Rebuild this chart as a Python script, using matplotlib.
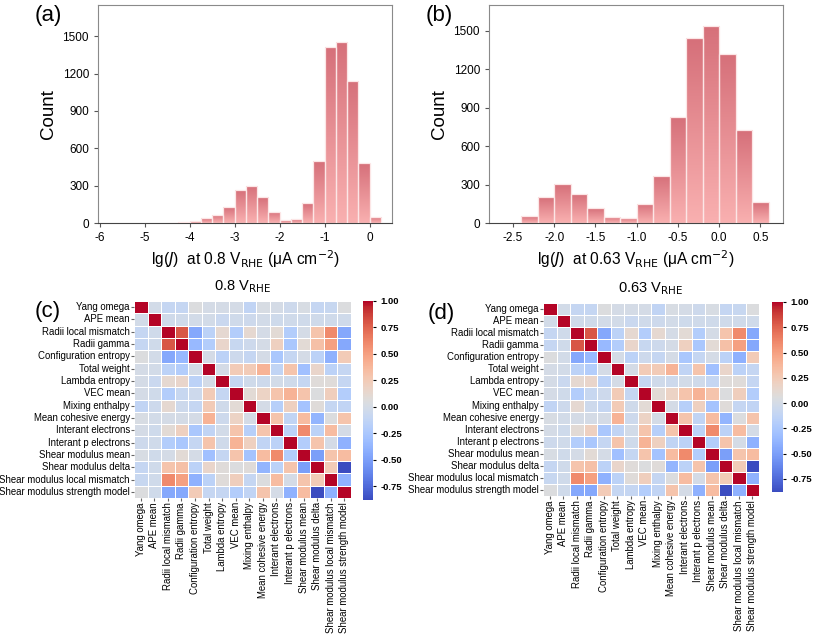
import numpy as np
import matplotlib
matplotlib.use("Agg")
import matplotlib.pyplot as plt
import seaborn as sns
from matplotlib.colors import LinearSegmentedColormap

plt.rcParams['font.family'] = ['Liberation Sans', 'DejaVu Sans']
plt.rcParams['axes.unicode_minus'] = False

# %% data
# (a) histogram, lg(J) at 0.8 V_RHE, bin width 0.25
bins_a = [-4.5, -4.25, -4.0, -3.75, -3.5, -3.25, -3.0, -2.75, -2.5, -2.25, -2.0,
          -1.75, -1.5, -1.25, -1.0, -0.75, -0.5, -0.25, 0.0]
counts_a = [2, 5, 16, 37, 67, 128, 261, 301, 208, 91, 21,
            32, 160, 496, 1414, 1455, 1140, 480, 51]

# (b) histogram, lg(J) at 0.63 V_RHE, bin width 0.2
bins_b = [-2.6, -2.4, -2.2, -2.0, -1.8, -1.6, -1.4, -1.2, -1.0, -0.8,
          -0.6, -0.4, -0.2, 0.0, 0.2, 0.4]
counts_b = [3, 52, 199, 303, 225, 116, 47, 39, 150, 367,
            827, 1440, 1539, 1319, 724, 160]

features = ["Yang omega", "APE mean", "Radii local mismatch", "Radii gamma",
            "Configuration entropy", "Total weight", "Lambda entropy", "VEC mean",
            "Mixing enthalpy", "Mean cohesive energy", "Interant electrons",
            "Interant p electrons", "Shear modulus mean", "Shear modulus delta",
            "Shear modulus local mismatch", "Shear modulus strength model"]

corr_08 = np.array([
    [1.00, -0.02, -0.10, -0.10, 0.05, 0.00, 0.00, 0.00, -0.12, 0.02, 0.00, -0.05, 0.02, -0.10, -0.08, 0.05],
    [-0.02, 1.00, -0.03, -0.03, -0.02, -0.02, -0.07, -0.03, -0.05, -0.02, -0.04, -0.03, -0.03, -0.03, -0.03, -0.03],
    [-0.10, -0.03, 1.00, 0.80, -0.45, -0.15, 0.12, -0.20, 0.12, 0.00, 0.10, -0.20, 0.00, 0.30, 0.60, -0.45],
    [-0.10, -0.03, 0.80, 1.00, -0.35, -0.20, 0.15, -0.08, -0.05, 0.00, 0.20, -0.25, 0.10, 0.32, 0.50, -0.45],
    [0.05, -0.02, -0.45, -0.35, 1.00, 0.00, -0.15, -0.05, -0.10, 0.00, -0.25, -0.10, 0.00, -0.15, -0.40, 0.25],
    [0.00, -0.02, -0.15, -0.20, 0.00, 1.00, 0.00, 0.25, 0.25, 0.40, -0.12, 0.30, -0.30, 0.15, -0.15, -0.10],
    [0.00, -0.07, 0.12, 0.15, -0.15, 0.00, 1.00, -0.10, -0.03, -0.05, -0.02, -0.03, -0.10, 0.08, 0.08, -0.10],
    [0.00, -0.03, -0.20, -0.08, -0.05, 0.25, -0.10, 1.00, 0.10, 0.18, 0.30, 0.40, 0.30, 0.05, 0.22, -0.20],
    [-0.12, -0.05, 0.12, -0.05, -0.10, 0.25, -0.03, 0.10, 1.00, 0.00, -0.18, 0.20, -0.28, 0.08, -0.10, -0.12],
    [0.02, -0.02, 0.00, 0.00, 0.00, 0.40, -0.05, 0.18, 0.00, 1.00, 0.30, -0.12, 0.35, -0.38, 0.05, 0.30],
    [0.00, -0.04, 0.10, 0.20, -0.25, -0.12, -0.02, 0.30, -0.18, 0.30, 1.00, -0.15, 0.60, -0.15, 0.35, 0.00],
    [-0.05, -0.03, -0.20, -0.25, -0.10, 0.30, -0.03, 0.40, 0.20, -0.12, -0.15, 1.00, -0.20, 0.30, 0.00, -0.40],
    [0.02, -0.03, 0.00, 0.10, 0.00, -0.30, -0.10, 0.30, -0.28, 0.35, 0.60, -0.20, 1.00, -0.50, 0.30, 0.35],
    [-0.10, -0.03, 0.30, 0.32, -0.15, 0.15, 0.08, 0.05, 0.08, -0.38, -0.15, 0.30, -0.50, 1.00, 0.25, -0.88],
    [-0.08, -0.03, 0.60, 0.50, -0.40, -0.15, 0.08, 0.22, -0.10, 0.05, 0.35, 0.00, 0.30, 0.25, 1.00, -0.40],
    [0.05, -0.03, -0.45, -0.45, 0.25, -0.10, -0.10, -0.20, -0.12, 0.30, 0.00, -0.40, 0.35, -0.88, -0.40, 1.00],
])
# 0.63 V map looks practically the same in the reference
corr_063 = corr_08.copy()

W, H = 813, 634
fig = plt.figure(figsize=(W / 100, H / 100), dpi=100)


def box(left, top, right, bottom):
    return [left / W, 1 - bottom / H, (right - left) / W, (bottom - top) / H]


bar_cmap = LinearSegmentedColormap.from_list("rose", ["#f9b0b0", "#d6707a"])
grad = np.linspace(0, 1, 64).reshape(-1, 1)


def hist_panel(rect, bins, counts, width, xlim, ylim, xticks, xticklabels, xlabel, tag):
    ax = fig.add_axes(rect)
    bars = ax.bar(bins, counts, width=width, align='edge', color='none',
                  edgecolor='#fce6e6', linewidth=0.9, zorder=3)
    for b in bars:
        x0, h = b.get_x(), b.get_height()
        im = ax.imshow(grad, extent=[x0, x0 + width, 0, h], origin='lower',
                       aspect='auto', cmap=bar_cmap, zorder=2)
        im.set_clip_path(b)
    ax.set_xlim(*xlim)
    ax.set_ylim(*ylim)
    ax.set_xticks(xticks)
    ax.set_xticklabels(xticklabels)
    ax.set_yticks([0, 300, 600, 900, 1200, 1500])
    ax.tick_params(labelsize=8.5, length=3, color='#555555')
    for s in ax.spines.values():
        s.set_color('#8a8a8a')
        s.set_linewidth(0.8)
    ax.spines['bottom'].set_color('#444444')
    ax.set_ylabel("Count", fontsize=13.5, labelpad=4)
    ax.set_xlabel(xlabel, fontsize=11.2, labelpad=3)
    ax.text(-0.17, 1.0, tag, transform=ax.transAxes, fontsize=16, va='top', ha='center')
    return ax


hist_panel(box(98, 5, 392, 223), bins_a, counts_a, 0.25, (-6.04, 0.5), (0, 1750),
           [-6, -5, -4, -3, -2, -1, 0], ["-6", "-5", "-4", "-3", "-2", "-1", "0"],
           r"lg($\it{J}$)  at 0.8 V$_{\rm RHE}$ (μA cm$^{-2}$)", "(a)")
hist_panel(box(489, 5, 783, 223), bins_b, counts_b, 0.2, (-2.79, 0.775), (0, 1700),
           [-2.5, -2.0, -1.5, -1.0, -0.5, 0.0, 0.5],
           ["-2.5", "-2.0", "-1.5", "-1.0", "-0.5", "0.0", "0.5"],
           r"lg($\it{J}$)  at 0.63 V$_{\rm RHE}$ (μA cm$^{-2}$)", "(b)")


def heat_panel(rect, cbar_rect, corr, title, tag, tag_x):
    ax = fig.add_axes(rect)
    cax = fig.add_axes(cbar_rect)
    sns.heatmap(corr, ax=ax, cbar_ax=cax, cmap='coolwarm', vmin=-0.88, vmax=1.0,
                linewidths=0.5, linecolor='white', square=False,
                xticklabels=features, yticklabels=features)
    ax.tick_params(labelsize=6.9, length=2, pad=1, color='#666666')
    ax.set_yticklabels(features, rotation=0)
    ax.set_xticklabels(features, rotation=90)
    cax.set_yticks([-0.75, -0.5, -0.25, 0.0, 0.25, 0.5, 0.75, 1.0])
    cax.set_yticklabels(["-0.75", "-0.50", "-0.25", "0.00", "0.25", "0.50", "0.75", "1.00"],
                        fontweight='bold')
    cax.tick_params(labelsize=6.8, length=2)
    ax.set_title(title, fontsize=10.5, pad=8)
    ax.text(tag_x, 1.0, tag, transform=ax.transAxes, fontsize=16, va='top', ha='center')


heat_panel(box(134, 301, 351, 498), box(363, 301, 373, 500), corr_08,
           r"0.8 V$_{\rm RHE}$", "(c)", -0.40)
heat_panel(box(543, 303, 759, 496), box(772, 302, 783, 492), corr_063,
           r"0.63 V$_{\rm RHE}$", "(d)", -0.47)

fig.savefig("out.png", dpi=100)
